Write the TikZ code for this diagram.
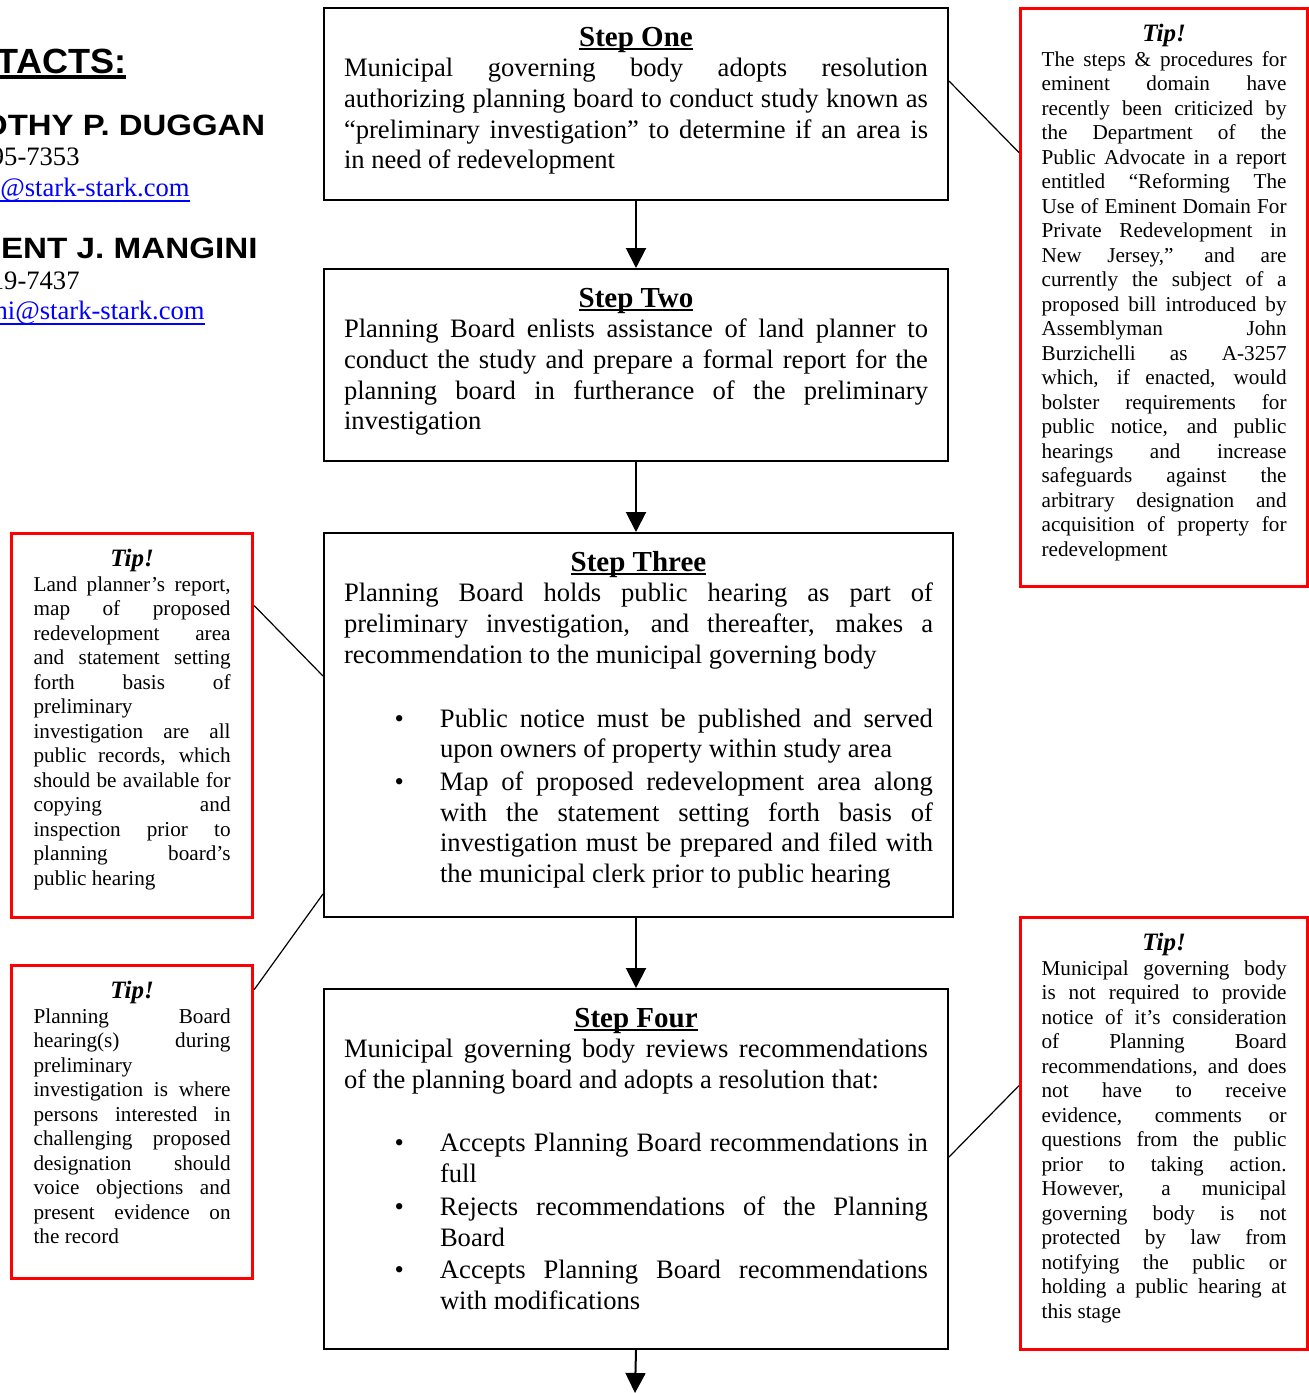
\documentclass[tikz,border=0pt]{standalone}
\usepackage{fontspec}
\setmainfont{Liberation Serif}
\newfontfamily\contactsans{Liberation Sans}
\usetikzlibrary{arrows.meta}
\tolerance=10000 \hbadness=10000 \vbadness=10000
\hyphenpenalty=10000 \exhyphenpenalty=10000

% underline: depth below baseline, thickness, text
\newsavebox{\ulbox}
\newcommand{\ulined}[3]{\sbox{\ulbox}{#3}\leavevmode\rlap{\rule[\dimexpr-#1-#2\relax]{\wd\ulbox}{#2}}\usebox{\ulbox}}
\newcommand{\stephead}[1]{{\centering\fontsize{14.5}{15.35}\selectfont\bfseries\rule{0pt}{12pt}\ulined{1.2pt}{1pt}{#1}\par}}
\newcommand{\stepitem}[1]{{\hangindent=48pt\hangafter=0\noindent\llap{\textbullet\hspace{18pt}}#1\par}\vspace{1pt}}
\newcommand{\stepbody}[3]{\begin{minipage}[t][#1][t]{#2}\fontsize{13.3}{15.35}\selectfont #3\end{minipage}}
\newcommand{\tipbody}[3]{\begin{minipage}[t][#1][t]{#2}{\centering\fontsize{12.5}{12.25}\selectfont\bfseries\itshape\rule{0pt}{10pt}Tip!\par}\fontsize{10.6}{12.25}\selectfont #3\end{minipage}}

\tikzset{
  stepbox/.style={draw, line width=1pt, inner xsep=10pt, inner ysep=7pt, anchor=north west},
  tipbox/.style={draw=red, line width=1.6pt, inner xsep=10.5pt, inner ysep=6.5pt, anchor=north west},
  contact/.style={anchor=base east, inner sep=0pt},
  tipline/.style={line width=0.6pt},
  flow/.style={-{Triangle[length=10pt,width=10pt]}, line width=1pt}
}

\begin{document}
\begin{tikzpicture}[x=1pt, y=-1pt]
  \useasboundingbox (0,0) rectangle (654,696.5);

  % contacts, cut off by the left margin
  \node[contact, font=\contactsans\bfseries\fontsize{17.5}{20}\selectfont] (conhead) at (63.3,36.5) {\ulined{1pt}{2pt}{\scalebox{1.03}[1]{TACTS:}}};
  \node[contact, font=\contactsans\bfseries\fontsize{14.7}{17}\selectfont] (nameone) at (132.8,67.5) {\scalebox{1.12}[1]{OTHY P. DUGGAN}};
  \node[contact, font=\fontsize{13.3}{15.35}\selectfont] (phoneone) at (40,82.5) {95-7353};
  \node[contact, font=\fontsize{13.3}{15.35}\selectfont, text=blue] (mailone) at (95,98) {\ulined{2pt}{1pt}{@stark-stark.com}};
  \node[contact, font=\contactsans\bfseries\fontsize{14.7}{17}\selectfont] (nametwo) at (129,129) {\scalebox{1.13}[1]{ENT J. MANGINI}};
  \node[contact, font=\fontsize{13.3}{15.35}\selectfont] (phonetwo) at (40,144.5) {19-7437};
  \node[contact, font=\fontsize{13.3}{15.35}\selectfont, text=blue] (mailtwo) at (102.5,159.5) {\ulined{2pt}{1pt}{ni@stark-stark.com}};

  % the four steps
  \node[stepbox] (stepone) at (161.5,3.5) {\stepbody{82pt}{292pt}{\stephead{Step One}
    Municipal governing body adopts resolution\linebreak
    authorizing planning board to conduct study known as\linebreak
    “preliminary investigation” to determine if an area is\linebreak
    in need of redevelopment}};
  \node[stepbox] (steptwo) at (161.5,134) {\stepbody{82pt}{292pt}{\stephead{Step Two}
    Planning Board enlists assistance of land planner to\linebreak
    conduct the study and prepare a formal report for the\linebreak
    planning board in furtherance of the preliminary\linebreak
    investigation}};
  \node[stepbox] (stepthree) at (161.5,266) {\stepbody{178pt}{294.5pt}{\stephead{Step Three}
    Planning Board holds public hearing as part of\linebreak
    preliminary investigation, and thereafter, makes a\linebreak
    recommendation to the municipal governing body\par\vspace{16.6pt}
    \stepitem{Public notice must be published and served\linebreak
      upon owners of property within study area}
    \stepitem{Map of proposed redevelopment area along\linebreak
      with the statement setting forth basis of\linebreak
      investigation must be prepared and filed with\linebreak
      the municipal clerk prior to public hearing}}};
  \node[stepbox] (stepfour) at (161.5,494) {\stepbody{166pt}{292pt}{\stephead{Step Four}
    Municipal governing body reviews recommendations\linebreak
    of the planning board and adopts a resolution that:\par\vspace{16.4pt}
    \stepitem{Accepts Planning Board recommendations in\linebreak full}
    \stepitem{Rejects recommendations of the Planning\linebreak Board}
    \stepitem{Accepts Planning Board recommendations\linebreak with modifications}}};

  % tips
  \node[tipbox] (tipone) at (509.5,3.5) {\tipbody{276pt}{122.5pt}{%
    The steps \& procedures for\linebreak eminent domain have\linebreak
    recently been criticized by\linebreak the Department of the\linebreak
    Public Advocate in a report\linebreak entitled “Reforming The\linebreak
    Use of Eminent Domain For\linebreak Private Redevelopment in\linebreak
    New Jersey,” and are\linebreak currently the subject of a\linebreak
    proposed bill introduced by\linebreak Assemblyman John\linebreak
    Burzichelli as A-3257\linebreak which, if enacted, would\linebreak
    bolster requirements for\linebreak public notice, and public\linebreak
    hearings and increase\linebreak safeguards against the\linebreak
    arbitrary designation and\linebreak acquisition of property for\linebreak
    redevelopment}};
  \node[tipbox, inner xsep=11pt] (tiptwo) at (5,266) {\tipbody{179pt}{98.5pt}{%
    Land planner’s report,\linebreak map of proposed\linebreak
    redevelopment area\linebreak and statement setting\linebreak
    forth basis of\linebreak preliminary\linebreak
    investigation are all\linebreak public records, which\linebreak
    should be available for\linebreak copying and\linebreak
    inspection prior to\linebreak planning board’s\linebreak
    public hearing}};
  \node[tipbox, inner xsep=11pt] (tipthree) at (5,482) {\tipbody{143.5pt}{98.5pt}{%
    Planning Board\linebreak hearing(s) during\linebreak
    preliminary\linebreak investigation is where\linebreak
    persons interested in\linebreak challenging proposed\linebreak
    designation should\linebreak voice objections and\linebreak
    present evidence on\linebreak the record}};
  \node[tipbox] (tipfour) at (509.5,458) {\tipbody{203pt}{122.5pt}{%
    Municipal governing body\linebreak is not required to provide\linebreak
    notice of it’s consideration\linebreak of Planning Board\linebreak
    recommendations, and does\linebreak not have to receive\linebreak
    evidence, comments or\linebreak questions from the public\linebreak
    prior to taking action.\linebreak However, a municipal\linebreak
    governing body is not\linebreak protected by law from\linebreak
    notifying the public or\linebreak holding a public hearing at\linebreak
    this stage}};

  % flow arrows
  \coordinate (flowend) at (317.5,696.5);
  \draw[flow] (stepone.south) -- (steptwo.north);
  \draw[flow] (steptwo.south) -- (steptwo.south |- stepthree.north);
  \draw[flow] (stepthree.south -| stepfour.north) -- (stepfour.north);
  \draw[flow] (stepfour.south) -- (flowend);

  % tip lines
  \draw[tipline] ([yshift=11.5pt]stepone.east) -- ([yshift=72.5pt]tipone.west);
  \draw[tipline] ([yshift=60pt]tiptwo.east) -- ([yshift=24.5pt]stepthree.west);
  \draw[tipline] ([yshift=-84.5pt]stepthree.west) -- ([yshift=66.25pt]tipthree.east);
  \draw[tipline] ([yshift=6pt]stepfour.east) -- ([yshift=24pt]tipfour.west);
\end{tikzpicture}
\end{document}
